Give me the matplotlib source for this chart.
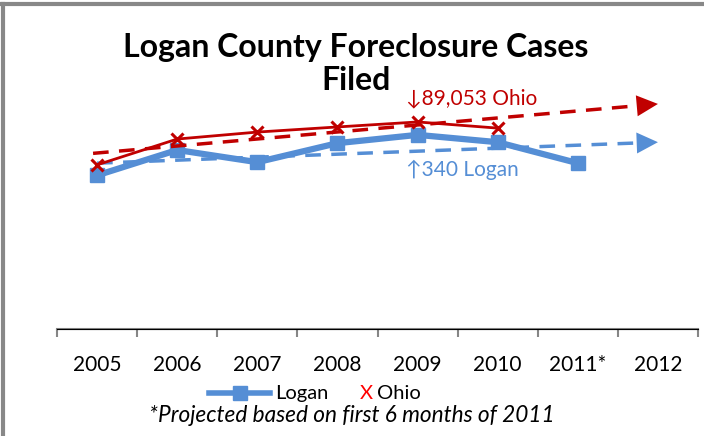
import matplotlib
matplotlib.use("Agg")
import matplotlib.pyplot as plt
from matplotlib.lines import Line2D

plt.rcParams['font.family'] = ['Lato', 'DejaVu Sans']

years = ["2005", "2006", "2007", "2008", "2009", "2010", "2011*", "2012"]
logan = [315, 367, 342, 381, 398, 383, 340]
ohio = [70600, 81700, 84700, 86900, 89053, 86400]
logan_trend = [340, 383]      # start (2005) / end (2012)
ohio_trend = [75700, 96800]   # start (2005) / end (2012)

BLUE = "#558ED5"
RED = "#C00000"

fig = plt.figure(figsize=(7.04, 4.36), dpi=100)
W, H = 704, 436
ax = fig.add_axes([57 / W, 1 - 329 / H, (698 - 57) / W, (329 - 50) / H])
ax2 = ax.twinx()

ax.set_xlim(-0.5, 7.5)
ax.set_ylim(0, 572)
ax2.set_ylim(0, 120000)

x = list(range(len(years)))


def lerp(tr, t):
    return tr[0] + (tr[1] - tr[0]) * t / 7


# trend lines
ax.plot([x[0], x[-1] - 0.12], [lerp(logan_trend, 0), lerp(logan_trend, 7 - 0.12)],
        color=BLUE, lw=2.5, ls=(0, (4.5, 3)), zorder=2)
ax.annotate("", xy=(x[-1], logan_trend[1]), xytext=(x[-1] - 0.2, lerp(logan_trend, 7 - 0.2)),
            arrowprops=dict(arrowstyle="-|>,head_length=0.85,head_width=0.42", color=BLUE, lw=0,
                            shrinkA=0, shrinkB=0, mutation_scale=18), zorder=3)
ax2.plot([x[0] - 0.05, x[-1] - 0.12], [lerp(ohio_trend, -0.05), lerp(ohio_trend, 7 - 0.12)],
         color=RED, lw=2.5, ls=(0, (4.5, 3)), zorder=2)
ax2.annotate("", xy=(x[-1], ohio_trend[1]), xytext=(x[-1] - 0.2, lerp(ohio_trend, 7 - 0.2)),
             arrowprops=dict(arrowstyle="-|>,head_length=0.85,head_width=0.42", color=RED, lw=0,
                             shrinkA=0, shrinkB=0, mutation_scale=18), zorder=3)

# data series
ax.plot(x[:len(logan)], logan, color=BLUE, lw=4.5, marker="s", ms=10, zorder=4)
ax2.plot(x[:len(ohio)], ohio, color=RED, lw=2, marker="x", ms=9, mew=2.2, zorder=5)

# annotations
ann_font = ["Lato", "Noto Sans CJK JP", "DejaVu Sans"]
ax2.text(3.855, 99300, "\u219389,053 Ohio", color=RED, fontsize=15, va="center", ha="left",
         family=ann_font)
ax.text(3.855, 326, "\u2191340 Logan", color=BLUE, fontsize=15, va="center", ha="left",
        family=ann_font)

# axis styling
for a in (ax, ax2):
    for s in ("left", "right", "top"):
        a.spines[s].set_visible(False)
    a.set_yticks([])
ax.spines["bottom"].set_color("#868686")
ax.spines["bottom"].set_linewidth(1.5)
ax.set_xticks([i - 0.5 for i in range(len(years) + 1)])
ax.set_xticklabels([])
ax.tick_params(axis="x", length=6, width=1.5, color="#868686")
for i, lab in enumerate(years):
    ax.annotate(lab, xy=(i, 0), xycoords=("data", "axes fraction"), xytext=(0, -26),
                textcoords="offset points", ha="center", va="center", fontsize=15, color="#000000")

# title
fig.text(356 / W, 1 - 47 / H, "Logan County Foreclosure Cases", ha="center", va="center",
         fontsize=23, fontweight="bold")
fig.text(356 / W, 1 - 80 / H, "Filed", ha="center", va="center", fontsize=23, fontweight="bold")

# legend
fig.add_artist(Line2D([209 / W, 270 / W], [1 - 393 / H] * 2, color=BLUE, lw=4,
                      transform=fig.transFigure))
fig.add_artist(Line2D([240 / W], [1 - 393 / H], color=BLUE, marker="s", ms=10, lw=0,
                      transform=fig.transFigure))
fig.text(275 / W, 1 - 393 / H, "Logan", ha="left", va="center", fontsize=14.5)
fig.text(366 / W, 1 - 393 / H, "X", ha="center", va="center", fontsize=14.5, color="#FF0000")
fig.text(377 / W, 1 - 393 / H, "Ohio", ha="left", va="center", fontsize=14.5)

fig.text(352 / W, 1 - 415 / H, "*Projected based on first 6 months of 2011", ha="center",
         va="center", fontsize=16.3, style="italic")

# frame
fig.add_artist(Line2D([3 / W, 3 / W], [0, 1 - 4 / H], color="#888888", lw=3, transform=fig.transFigure))
fig.add_artist(Line2D([2 / W, 1], [1 - 4 / H, 1 - 4 / H], color="#888888", lw=3, transform=fig.transFigure))

fig.savefig("out.png", dpi=100)
